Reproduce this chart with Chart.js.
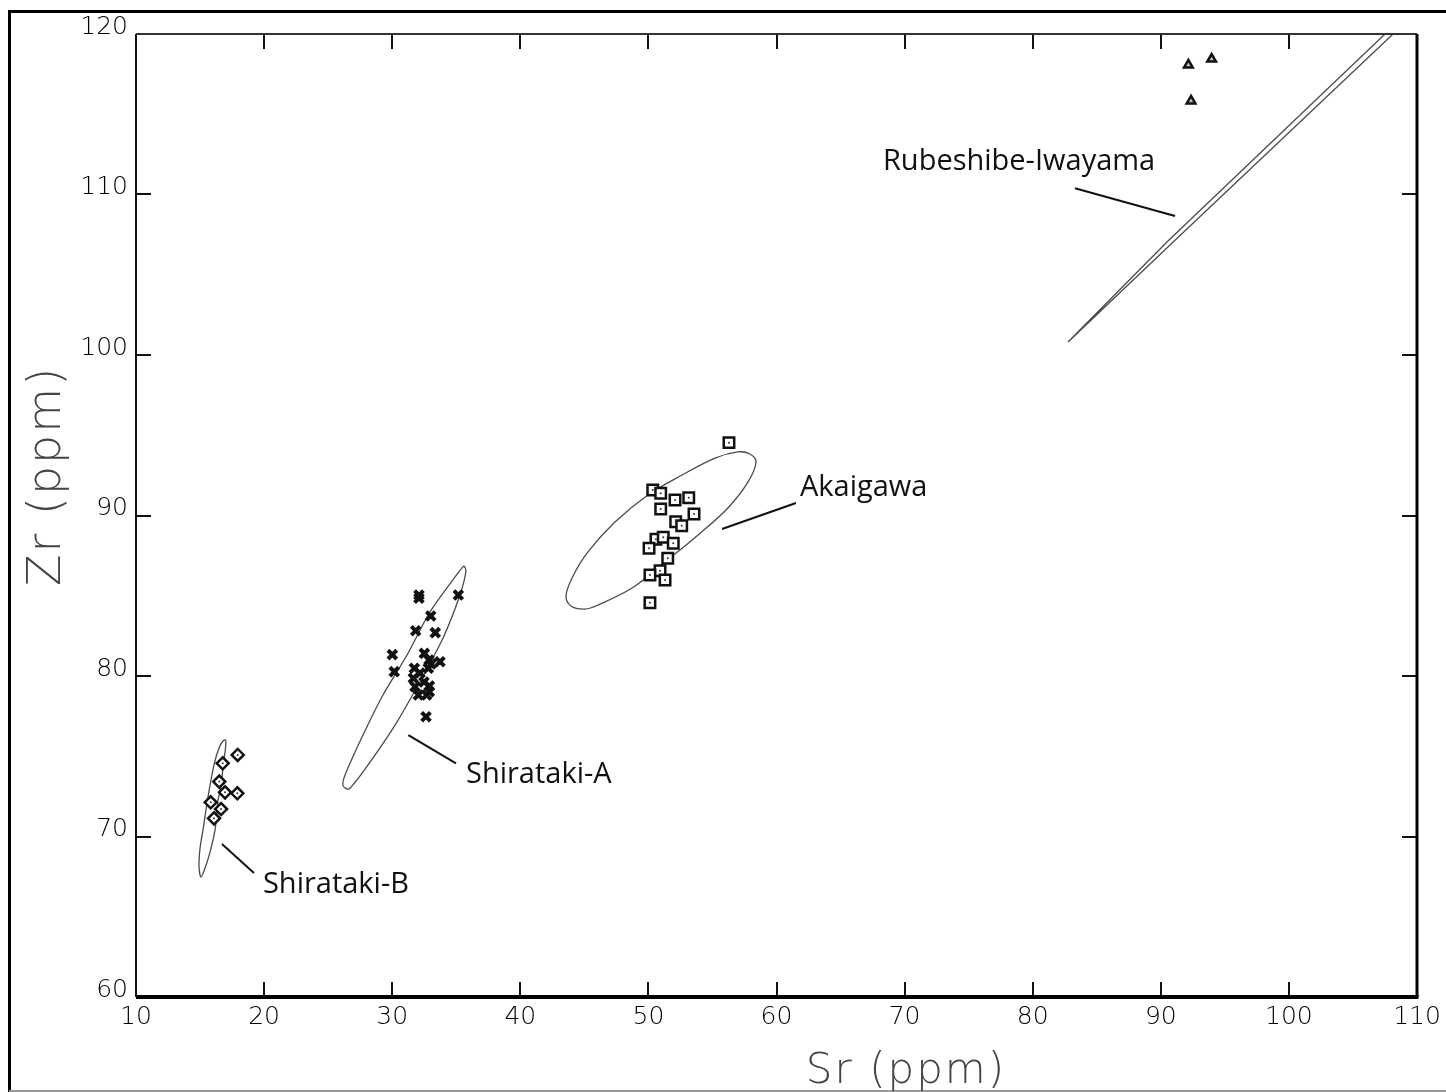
<!DOCTYPE html>
<html><head><meta charset="utf-8">
<script src="https://cdn.jsdelivr.net/npm/chart.js@4.4.0/dist/chart.umd.min.js"></script>
<style>html,body{margin:0;padding:0;background:#fff;overflow:hidden}#wrap{width:1446px;height:1092px;position:relative}</style>
</head><body><div id="wrap"><canvas id="c" width="1446" height="1092"></canvas></div>
<script>
// ---- tick labels ----
const xTicks = [10, 20, 30, 40, 50, 60, 70, 80, 90, 100, 110];
const yTicks = [60, 70, 80, 90, 100, 110, 120];
const xTitle = 'Sr (ppm)';
const yTitle = 'Zr (ppm)';

// ---- samples (Sr, Zr in ppm) ----
const shiratakiB_Sr = [17.94, 16.77, 16.50, 16.95, 17.91, 15.83, 16.64, 16.09];
const shiratakiB_Zr = [75.08, 74.56, 73.42, 72.75, 72.69, 72.13, 71.71, 71.13];

const shiratakiA_Sr = [32.09, 32.09, 35.16, 33.01, 31.83, 33.36, 30.01, 32.51, 33.73, 32.87, 30.16, 31.73, 32.82, 33.03, 31.65, 32.17, 31.78, 32.90, 32.90, 32.48, 32.04, 32.69, 32.64];
const shiratakiA_Zr = [85.05, 84.84, 85.05, 83.74, 82.82, 82.70, 81.33, 81.41, 80.89, 81.00, 80.27, 80.48, 80.48, 80.75, 79.86, 80.19, 79.33, 79.38, 79.02, 79.63, 78.82, 78.82, 77.46];

const akaigawa_Sr = [56.29, 50.34, 50.96, 52.08, 53.15, 50.96, 53.56, 52.13, 52.60, 50.59, 51.16, 51.94, 50.05, 51.51, 50.91, 50.12, 51.30, 50.12];
const akaigawa_Zr = [94.54, 91.59, 91.38, 90.97, 91.11, 90.40, 90.09, 89.61, 89.36, 88.52, 88.64, 88.27, 87.96, 87.33, 86.56, 86.29, 85.98, 84.57];

const rubeshibe_Sr = [92.15, 93.97, 92.36];
const rubeshibe_Zr = [118.07, 118.44, 115.83];

// ---- ellipse outlines (Sr, Zr) ----
const ellB_Sr = [16.40, 16.17, 15.78, 15.39, 15.07, 14.92, 15.00, 15.23, 15.62, 16.09, 16.48, 16.79, 16.99, 16.99, 16.83, 16.64, 16.40];
const ellB_Zr = [72.27, 70.41, 69.03, 68.04, 67.48, 68.16, 69.28, 70.41, 72.46, 74.46, 75.51, 75.95, 76.01, 75.51, 74.58, 73.21, 72.27];

const ellA_Sr = [32.17, 33.97, 35.29, 35.76, 35.60, 35.14, 32.95, 31.16, 29.28, 27.72, 26.32, 26.16, 26.63, 28.27, 30.37, 32.17];
const ellA_Zr = [79.63, 82.37, 85.05, 86.54, 86.85, 86.42, 83.99, 81.31, 78.82, 76.32, 73.83, 73.15, 72.96, 74.64, 77.13, 79.63];

const ellK_Sr = [51.30, 53.88, 56.21, 57.78, 58.40, 57.93, 56.99, 55.20, 52.62, 49.97, 47.39, 45.28, 44.04, 43.57, 43.96, 45.05, 46.07, 48.72, 51.30];
const ellK_Zr = [87.10, 88.79, 90.47, 92.09, 93.33, 93.83, 93.96, 93.58, 92.52, 91.28, 89.60, 87.73, 86.11, 84.98, 84.36, 84.17, 84.42, 85.48, 87.10];

const ellR_Sr = [82.76, 90.48, 107.50, 111.80, 112.42, 108.13, 90.80, 82.76];
const ellR_Zr = [100.81, 107.04, 120.00, 123.24, 123.24, 120.00, 106.92, 100.81];

// ---- group labels and leader lines ----
const labelNames = ['Shirataki-B', 'Shirataki-A', 'Akaigawa', 'Rubeshibe-Iwayama'];
const labelSr = [19.91, 35.76, 61.83, 68.31];
const labelZr = [66.98, 73.83, 91.71, 112.02];
const leaderSr = [[16.71, 19.21], [31.26, 34.98], [55.75, 61.52], [83.30, 91.11]];
const leaderZr = [[69.53, 67.73], [76.32, 74.56], [89.16, 90.78], [110.39, 108.66]];

// ---- build ----
const pts = (xs, ys) => xs.map((x, i) => ({x: x, y: ys[i]}));

function outline(xs, ys, tension) {
  return {data: pts(xs, ys), showLine: true, borderColor: '#4a4a4a', borderWidth: 1.3,
    pointRadius: 0, tension: tension, fill: false, clip: 0, order: 5};
}
function leader(i) {
  return {data: pts(leaderSr[i], leaderZr[i]), showLine: true, borderColor: '#111', borderWidth: 2,
    pointRadius: 0, tension: 0, fill: false, order: 5};
}
function marker(xs, ys, style, r, bw, bg) {
  return {data: pts(xs, ys), pointStyle: style, pointRadius: r, pointBorderWidth: bw,
    pointBorderColor: '#111', pointBackgroundColor: bg, showLine: false, order: 2};
}
function dots(xs, ys) {
  return {data: pts(xs, ys), pointStyle: 'circle', pointRadius: 1, pointBorderWidth: 0,
    pointBackgroundColor: '#333', showLine: false, order: 1};
}

const datasets = [
  outline(ellB_Sr, ellB_Zr, 0.3), outline(ellA_Sr, ellA_Zr, 0.25), outline(ellK_Sr, ellK_Zr, 0.35), outline(ellR_Sr, ellR_Zr, 0),
  leader(0), leader(1), leader(2), leader(3),
  marker(shiratakiB_Sr, shiratakiB_Zr, 'rectRot', 6, 2.5, '#fff'),
  marker(shiratakiA_Sr, shiratakiA_Zr, 'crossRot', 6.2, 4, '#111'),
  marker(akaigawa_Sr, akaigawa_Zr, 'rect', 7.4, 2.5, '#fff'),
  marker(rubeshibe_Sr, rubeshibe_Zr, 'triangle', 5, 2.5, '#bbb'),
  dots(shiratakiB_Sr, shiratakiB_Zr), dots(akaigawa_Sr, akaigawa_Zr)
];

const TICKFONT = {family: 'DejaVu Sans', size: 25, weight: '200'};

const framePlugin = {
  id: 'frame',
  beforeDraw(chart) {
    const c = chart.ctx;
    c.save();
    c.fillStyle = '#fff';
    c.fillRect(0, 0, chart.width, chart.height);
    c.strokeStyle = '#000';
    c.lineWidth = 3;
    c.beginPath();
    c.moveTo(9.5, 1092); c.lineTo(9.5, 11.5); c.lineTo(1446, 11.5);
    c.stroke();
    c.strokeStyle = '#999';
    c.lineWidth = 2;
    c.beginPath(); c.moveTo(9, 1091); c.lineTo(1446, 1091); c.stroke();
    c.restore();
  },
  afterDraw(chart) {
    const c = chart.ctx, a = chart.chartArea, xs = chart.scales.x, ys = chart.scales.y;
    c.save();
    const T = 15;
    c.strokeStyle = '#111';
    c.lineWidth = 2;
    c.beginPath();
    xTicks.forEach(v => {
      if (v === xTicks[0] || v === xTicks[xTicks.length - 1]) return;
      const px = Math.round(xs.getPixelForValue(v));
      c.moveTo(px, a.top); c.lineTo(px, a.top + T);
      c.moveTo(px, a.bottom); c.lineTo(px, a.bottom - T);
    });
    yTicks.forEach(v => {
      if (v === yTicks[0] || v === yTicks[yTicks.length - 1]) return;
      const py = Math.round(ys.getPixelForValue(v));
      c.moveTo(a.left, py); c.lineTo(a.left + T, py);
      c.moveTo(a.right, py); c.lineTo(a.right - T, py);
    });
    c.stroke();
    // box
    c.lineWidth = 2; c.strokeStyle = '#333';
    c.beginPath(); c.moveTo(a.left, a.top); c.lineTo(a.right, a.top); c.stroke();
    c.lineWidth = 2; c.strokeStyle = '#111';
    c.beginPath(); c.moveTo(a.left, a.bottom); c.lineTo(a.left, a.top); c.stroke();
    c.lineWidth = 3; c.strokeStyle = '#000';
    c.beginPath(); c.moveTo(a.right, a.top); c.lineTo(a.right, a.bottom); c.stroke();
    c.lineWidth = 4;
    c.beginPath(); c.moveTo(a.left, a.bottom); c.lineTo(a.right + 1.5, a.bottom); c.stroke();

    // group labels
    c.fillStyle = '#111';
    c.font = '29px "Open Sans"';
    c.textAlign = 'left';
    c.textBaseline = 'middle';
    labelNames.forEach((t, i) => {
      c.fillText(t, xs.getPixelForValue(labelSr[i]), ys.getPixelForValue(labelZr[i]));
    });

    // axis titles
    c.fillStyle = '#444';
    c.textAlign = 'center';
    c.font = '200 42px "DejaVu Sans"';
    c.letterSpacing = '2px';
    c.fillText(xTitle, 906, 1072);
    c.translate(48, 476);
    c.rotate(-Math.PI / 2);
    c.font = '200 46px "DejaVu Sans"';
    c.fillText(yTitle, 0, 0);
    c.restore();
  }
};

new Chart(document.getElementById('c'), {
  type: 'scatter',
  data: {datasets: datasets},
  options: {
    responsive: false,
    animation: false,
    devicePixelRatio: 1,
    layout: {padding: {top: 34, right: 29, left: 0, bottom: 0}},
    plugins: {legend: {display: false}, tooltip: {enabled: false}, title: {display: false}},
    events: [],
    scales: {
      x: {
        type: 'linear', min: 10, max: 110,
        afterBuildTicks: s => { s.ticks = xTicks.map(v => ({value: v})); },
        afterFit: s => { s.height = 95; },
        ticks: {font: TICKFONT, color: '#000', padding: 5, maxRotation: 0, autoSkip: false},
        grid: {display: false, drawTicks: false},
        border: {display: false}
      },
      y: {
        type: 'linear', min: 60, max: 120,
        afterBuildTicks: s => { s.ticks = yTicks.map(v => ({value: v})); },
        afterFit: s => { s.width = 136; },
        ticks: {font: TICKFONT, color: '#000', padding: 8, labelOffset: -7, autoSkip: false},
        grid: {display: false, drawTicks: false},
        border: {display: false}
      }
    }
  },
  plugins: [framePlugin]
});
</script>
</body></html>
